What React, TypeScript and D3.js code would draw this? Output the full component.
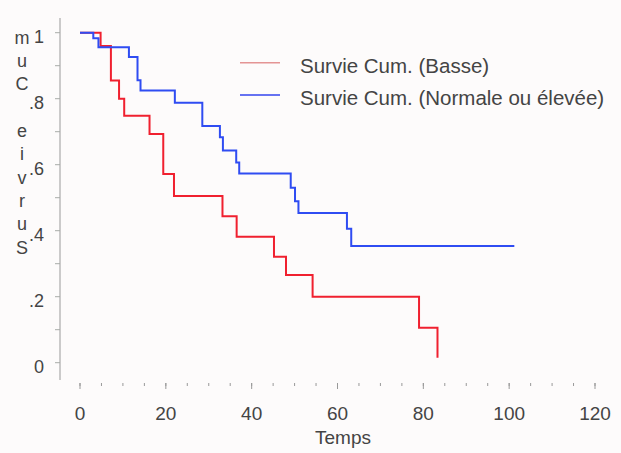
import React from "react";
import * as d3 from "d3";

const W = 621;
const H = 453;

// Blue: Survie Cum. (Normale ou élevée)
const blueTimes = [0, 3.1, 4.3, 11.4, 13.4, 14.1, 22.1, 28.5, 32.6, 33.3, 36.4, 37.1, 49.1, 50.1, 50.9, 62.2, 63.2, 101.2];
const blueValues = [1, 0.983, 0.956, 0.926, 0.856, 0.825, 0.788, 0.717, 0.683, 0.643, 0.607, 0.573, 0.53, 0.489, 0.454, 0.406, 0.354, 0.354];

// Red: Survie Cum. (Basse)
const redTimes = [0, 4.8, 7.2, 9.1, 10.3, 16.2, 19.4, 21.9, 33.2, 36.5, 45.2, 48.0, 54.2, 79.0, 83.3];
const redValues = [1, 0.96, 0.855, 0.8, 0.748, 0.693, 0.572, 0.505, 0.444, 0.382, 0.321, 0.266, 0.2, 0.106, 0.015];

const xTicks = [0, 20, 40, 60, 80, 100, 120];
const xMinor = d3.range(0, 125, 5);
const yTicks = [0, 0.2, 0.4, 0.6, 0.8, 1];
const yTickLabels = ["0", ".2", ".4", ".6", ".8", "1"];
const yMinor = d3.range(0, 1.05, 0.1);

const legendLabels = ["Survie Cum. (Basse)", "Survie Cum. (Normale ou élevée)"];
const xTitle = "Temps";
const yTitle = "Survie Cum";

const FONT = "'Liberation Sans', Arial, Helvetica, sans-serif";

export default function App() {
  const x = d3.scaleLinear().domain([0, 120]).range([80, 595]);
  const y = d3.scaleLinear().domain([0, 1]).range([362.7, 32.7]);

  const line = d3
    .line<[number, number]>()
    .x((d) => x(d[0]))
    .y((d) => y(d[1]))
    .curve(d3.curveStepAfter);

  const redPath = line(redTimes.map((t, i) => [t, redValues[i]]) as [number, number][]) || "";
  const bluePath = line(blueTimes.map((t, i) => [t, blueValues[i]]) as [number, number][]) || "";

  const axisY = 380;
  const axisX = 60;
  const letters = yTitle.split("");

  return (
    <svg
      width={W}
      height={H}
      style={{ position: "absolute", left: 0, top: 0, background: "#fdfbfb" }}
      fontFamily={FONT}
    >
      <defs>
        <linearGradient id="xaxisgrad" x1="0" x2="1" y1="0" y2="0">
          <stop offset="0%" stopColor="#9aa89a" />
          <stop offset="55%" stopColor="#555" />
          <stop offset="80%" stopColor="#c8c4d8" />
          <stop offset="100%" stopColor="#f2f0f4" />
        </linearGradient>
      </defs>

      {/* Y axis */}
      <line x1={axisX} x2={axisX} y1={18} y2={axisY} stroke="#aaa" strokeWidth={1.2} />
      {yMinor.map((v, i) => (
        <line key={"ym" + i} x1={axisX - 5} x2={axisX} y1={y(v)} y2={y(v)} stroke="#a8aca8" strokeWidth={1} />
      ))}
      {yTicks.map((v, i) => (
        <text key={"yt" + i} x={44} y={y(v) + 10.5} textAnchor="end" fontSize={18} fill="#444">
          {yTickLabels[i]}
        </text>
      ))}
      {letters.map((c, i) => (
        <text key={"yl" + i} x={22} y={247 - i * 23.3 + 6.5} textAnchor="middle" fontSize={18} fill="#444">
          {c}
        </text>
      ))}

      {/* X axis */}
      <line x1={axisX} x2={609} y1={axisY} y2={axisY} stroke="url(#xaxisgrad)" strokeWidth={1.6} />
      {xMinor.map((v, i) => (
        <line key={"xm" + i} x1={x(v)} x2={x(v)} y1={axisY + 3} y2={axisY + 6} stroke="#999" strokeWidth={1} />
      ))}
      {xTicks.map((v, i) => (
        <line key={"xM" + i} x1={x(v)} x2={x(v)} y1={axisY + 3} y2={axisY + 9} stroke="#999" strokeWidth={1} />
      ))}
      {xTicks.map((v, i) => (
        <text key={"xt" + i} x={x(v)} y={420} textAnchor="middle" fontSize={19} fill="#444">
          {String(v)}
        </text>
      ))}
      <text x={343} y={444} textAnchor="middle" fontSize={19} fill="#444">
        {xTitle}
      </text>

      {/* Curves */}
      <path d={redPath} fill="none" stroke="#f0202f" strokeWidth={2} />
      <path d={bluePath} fill="none" stroke="#2f4cf2" strokeWidth={2} />

      {/* Legend */}
      <line x1={240} x2={280} y1={62.7} y2={62.7} stroke="#e49494" strokeWidth={1.5} />
      <text x={300} y={73} fontSize={20.5} fill="#444">
        {legendLabels[0]}
      </text>
      <line x1={240} x2={280} y1={95} y2={95} stroke="#3344ee" strokeWidth={1.5} />
      <text x={300} y={105} fontSize={20.5} fill="#444">
        {legendLabels[1]}
      </text>
    </svg>
  );
}
